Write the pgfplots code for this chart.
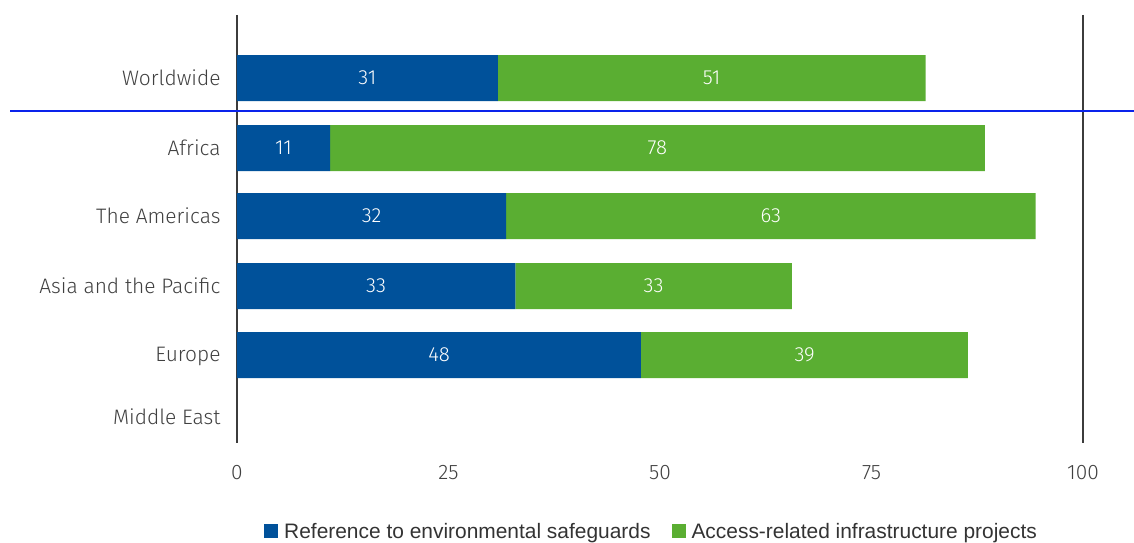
\documentclass[border=0pt]{standalone}
\usepackage{pgfplots}
\pgfplotsset{compat=1.18}
\usepackage{fontspec}
\setmainfont{Liberation Sans}
\newfontfamily\din{Fira Sans}[UprightFont=* Light]
\definecolor{cblue}{RGB}{0,81,154}
\definecolor{cgreen}{RGB}{90,174,50}
\definecolor{tgray}{RGB}{64,64,64}
\definecolor{lgray}{RGB}{51,51,51}
\definecolor{axgray}{RGB}{60,60,60}
\definecolor{hline}{RGB}{10,35,235}
\pgfplotsset{
  common/.style={
    scale only axis, width=846bp, height=428bp,
    xmin=0, xmax=100, ymin=15, ymax=443, y dir=reverse,
    clip=false,
  }
}
\begin{document}
\begin{tikzpicture}
\begin{axis}[
  common,
  xbar stacked,
  bar width=46,
  separate axis lines,
  x axis line style={draw=none},
  y axis line style={draw=axgray, line width=1.3bp},
  xtick={0,25,50,75,100},
  ytick={78,148,216,286,356,417},
  yticklabels={Worldwide,Africa,The Americas,Asia and the Pacific,Europe,Middle East},
  major tick length=0,
  /pgf/number format/assume math mode=true,
  tick label style={font=\din\fontsize{21}{24}\selectfont, text=tgray},
  xticklabel style={anchor=center, yshift=-30bp},
  yticklabel style={anchor=east, xshift=-13bp},
  legend columns=2,
  legend style={at={(0.49,-0.206)}, anchor=center, draw=none, fill=none,
    font=\fontsize{21}{24}\selectfont, text=lgray,
    /tikz/every even column/.append style={column sep=19bp}},
  legend image code/.code={\fill[#1] (0bp,-7bp) rectangle (14bp,7bp); \path (18bp,0bp);},
]
\addplot[fill=cblue, draw=none] coordinates {(30.85,78) (11.0,148) (31.8,216) (32.9,286) (47.75,355)};
\addlegendentry{Reference to environmental safeguards}
\addplot[fill=cgreen, draw=none] coordinates {(50.55,78) (77.4,148) (62.6,216) (32.7,286) (38.65,355)};
\addlegendentry{Access-related infrastructure projects}
\draw[hline, line width=2.2bp] (axis cs:-26.83,111) -- (axis cs:106.03,111);
\coordinate (bl) at (axis cs:-28.014,542);
\coordinate (tr) at (axis cs:106.028,0);
\end{axis}
\begin{axis}[common, hide axis]
\addplot[draw=none, nodes near coords, point meta=explicit symbolic,
  nodes near coords align={center},
  every node near coord/.append style={font=\din\fontsize{20.5}{24}\selectfont, text=white}]
  coordinates {(15.4,78)[31] (56.1,78)[51] (5.5,148)[11] (49.7,148)[78]
  (15.9,216)[32] (63.1,216)[63] (16.45,286)[33] (49.25,286)[33]
  (23.9,355)[48] (67.1,355)[39]};
\end{axis}
\pgfresetboundingbox
\path[use as bounding box] (bl) rectangle (tr);
\end{tikzpicture}
\end{document}
